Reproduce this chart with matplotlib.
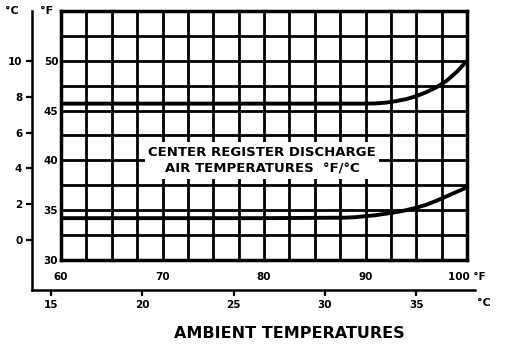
import numpy as np
import matplotlib
matplotlib.use('Agg')
import matplotlib.pyplot as plt

# ambient temperature (F) vs centre register discharge air temperature (F)
upper_x = [60, 70, 80, 90, 91, 92, 93, 94, 95, 96, 97, 98, 99, 100]
upper_y = [45.7, 45.7, 45.7, 45.7, 45.72, 45.8, 45.95, 46.15, 46.45, 46.85, 47.35, 48.0, 48.9, 50.0]
lower_x = [60, 70, 80, 88, 89, 90, 91, 92, 93, 94, 95, 96, 97, 98, 99, 100]
lower_y = [34.2, 34.2, 34.2, 34.25, 34.3, 34.4, 34.5, 34.65, 34.8, 35.0, 35.25, 35.55, 35.95, 36.4, 36.85, 37.3]

f_xticks = [60, 70, 80, 90, 100]
f_xlabels = ['60', '70', '80', '90', '100 °F']
f_yticks = [30, 35, 40, 45, 50]
c_xticks = [15, 20, 25, 30, 35]
c_yticks = [0, 2, 4, 6, 8, 10]

def f2c(f):
    return (np.asarray(f) - 32) / 1.8

W, H = 512, 356
fig = plt.figure(figsize=(W / 100, H / 100), dpi=100)

# main grid box (pixels)
gx0, gx1, gy0, gy1 = 61, 467, 260, 11
ax = fig.add_axes([gx0 / W, 1 - gy0 / H, (gx1 - gx0) / W, (gy0 - gy1) / H])
ax.set_xlim(60, 100)
ax.set_ylim(30, 55)

# outer celsius frame (pixels)
fx0, fx1, fy0, fy1 = 32, 475, 290, 11
fpx = 40 / (gx1 - gx0)
fpy = 25 / (gy0 - gy1)
frame = fig.add_axes([fx0 / W, 1 - fy0 / H, (fx1 - fx0) / W, (fy0 - fy1) / H], zorder=0)
frame.set_xlim(f2c(60 - (gx0 - fx0) * fpx), f2c(100 + (fx1 - gx1) * fpx))
frame.set_ylim(f2c(30 - (fy0 - gy0) * fpy), f2c(55 + (gy1 - fy1) * fpy))
frame.patch.set_visible(False)
for s in ['top', 'right']:
    frame.spines[s].set_visible(False)
for s in ['left', 'bottom']:
    frame.spines[s].set_linewidth(1.8)
frame.set_xticks(c_xticks)
frame.set_yticks(c_yticks)
frame.tick_params(direction='out', length=4, width=1.6, labelsize=7.5, pad=3)
for lab in frame.get_xticklabels() + frame.get_yticklabels():
    lab.set_fontweight('bold')
frame.text(1.02, -0.046, '°C', transform=frame.transAxes, fontsize=8, fontweight='bold',
           ha='center', va='center')
frame.text(-0.045, 1.0, '°C', transform=frame.transAxes, fontsize=8, fontweight='bold',
           ha='center', va='center')

ax.set_zorder(1)
ax.set_xticks(f_xticks)
ax.set_xticklabels(f_xlabels)
ax.set_xticks(np.arange(60, 100.1, 2.5), minor=True)
ax.set_yticks(f_yticks)
ax.set_yticks(np.arange(30, 55.1, 2.5), minor=True)
ax.tick_params(which='both', length=0, labelsize=7.5)
ax.tick_params(axis='x', pad=9)
ax.tick_params(axis='y', pad=2)
for lab in ax.get_xticklabels() + ax.get_yticklabels():
    lab.set_fontweight('bold')
ax.grid(which='both', color='black', linewidth=2.0)
for s in ax.spines.values():
    s.set_linewidth(2.5)
ax.text(-0.035, 1.0, '°F', transform=ax.transAxes, fontsize=8, fontweight='bold',
        ha='center', va='center')

ax.plot(upper_x, upper_y, color='black', linewidth=2.8, solid_capstyle='butt')
ax.plot(lower_x, lower_y, color='black', linewidth=2.8, solid_capstyle='butt')

ax.text(79.8, 40.0, 'CENTER REGISTER DISCHARGE\nAIR TEMPERATURES  °F/°C',
        fontsize=9.5, fontweight='bold', ha='center', va='center', linespacing=1.35,
        bbox=dict(facecolor='white', edgecolor='none', pad=2.5), zorder=5)

fig.text(289 / W, 1 - 333 / H, 'AMBIENT TEMPERATURES', fontsize=11.5, fontweight='bold',
         ha='center', va='center')

fig.savefig('out.png', dpi=100)
